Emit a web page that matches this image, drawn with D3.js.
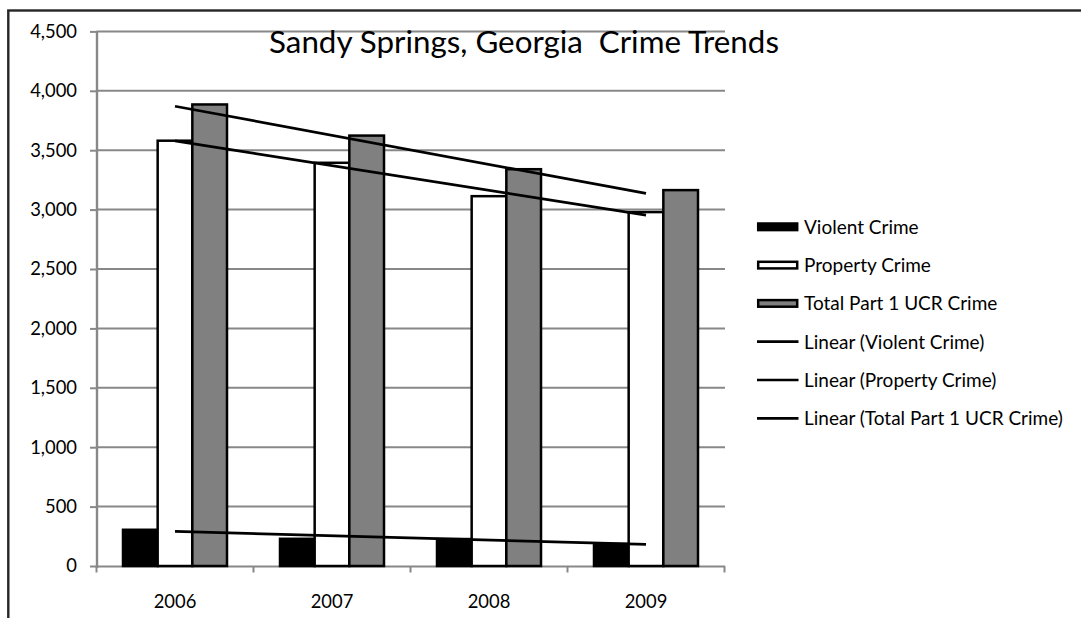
<!DOCTYPE html>
<html>
<head>
<meta charset="utf-8">
<script src="https://cdn.jsdelivr.net/npm/d3@7"></script>
<style>
  html, body { margin: 0; padding: 0; background: #fff; }
  svg { display: block; }
  text { font-family: Lato, "Open Sans", sans-serif; fill: #000; }
</style>
</head>
<body>
<svg id="chart" width="1081" height="618"></svg>
<script>
// ---- data ----
const years = ["2006", "2007", "2008", "2009"];
const violent = [305, 229, 227, 185];
const property = [3580, 3394, 3113, 2979];
const total = [3885, 3623, 3340, 3164];
const seriesNames = ["Violent Crime", "Property Crime", "Total Part 1 UCR Crime"];
const trendNames = ["Linear (Violent Crime)", "Linear (Property Crime)", "Linear (Total Part 1 UCR Crime)"];
const yTicks = [0, 500, 1000, 1500, 2000, 2500, 3000, 3500, 4000, 4500];
const titleText = "Sandy Springs, Georgia  Crime Trends";

// ---- styles ----
const fills = ["#000000", "#ffffff", "#808080"];
const gridColor = "#888888";

const svg = d3.select("#chart");

// outer frame (cropped at right/bottom as in the reference)
svg.append("rect")
  .attr("x", 8.3).attr("y", 10.5)
  .attr("width", 1200).attr("height", 800)
  .attr("fill", "none").attr("stroke", "#262626").attr("stroke-width", 2.4);

const plotLeft = 96.5, plotRight = 724.5, plotBottom = 566, plotTop = 31.4;

const x = d3.scaleBand().domain(years).range([plotLeft, plotRight]).paddingInner(0).paddingOuter(0);
const groupPad = 26.5;
const x1 = d3.scaleBand().domain(seriesNames).range([groupPad, x.bandwidth() - groupPad]).padding(0);
const y = d3.scaleLinear().domain([0, 4500]).range([plotBottom, plotTop]);

// helper to fit font size to a target width
function fitSize(sample, target, base) {
  const t = svg.append("text").attr("font-size", base).text(sample);
  const w = t.node().getComputedTextLength();
  t.remove();
  return base * target / w;
}
const axisFont = fitSize("2006", 42.7, 20);
const legendFont = fitSize("Linear (Total Part 1 UCR Crime)", 259, 20);
const titleFont = fitSize(titleText, 502, 30);

// gridlines
svg.append("g").selectAll("line")
  .data(yTicks.filter(d => d > 0))
  .join("line")
  .attr("x1", plotLeft).attr("x2", plotRight + 0.5)
  .attr("y1", d => y(d)).attr("y2", d => y(d))
  .attr("stroke", gridColor).attr("stroke-width", 2);

// y axis
const yAxis = svg.append("g")
  .attr("transform", `translate(${plotLeft},0)`)
  .call(d3.axisLeft(y).tickValues(yTicks).tickSize(6.5).tickPadding(13).tickFormat(d3.format(",")));
yAxis.select(".domain").attr("stroke", gridColor).attr("stroke-width", 2.4)
  .attr("d", `M0.5,${plotTop - 0.5}V${plotBottom + 2}`);
yAxis.selectAll(".tick line").attr("stroke", gridColor).attr("stroke-width", 2);
yAxis.selectAll(".tick text").attr("font-size", axisFont).attr("font-family", "Lato, sans-serif").attr("fill", "#000");

// x axis
const xAxis = svg.append("g")
  .attr("transform", `translate(0,${plotBottom})`)
  .call(d3.axisBottom(x).tickSize(0).tickPadding(29));
xAxis.select(".domain").attr("stroke", gridColor).attr("stroke-width", 2);
xAxis.selectAll(".tick text").attr("font-size", axisFont).attr("font-family", "Lato, sans-serif").attr("fill", "#000");
const bounds = years.map(d => x(d)).concat([x(years[years.length - 1]) + x.bandwidth()]);
xAxis.append("g").selectAll("line").data(bounds).join("line")
  .attr("x1", d => d).attr("x2", d => d)
  .attr("y1", 0).attr("y2", 6.5)
  .attr("stroke", gridColor).attr("stroke-width", 2);

// bars
const seriesVals = [violent, property, total];
const barData = [];
years.forEach((yr, i) => {
  seriesNames.forEach((s, j) => barData.push({ yr, s, j, v: seriesVals[j][i] }));
});
svg.append("g").selectAll("rect")
  .data(barData)
  .join("rect")
  .attr("x", d => x(d.yr) + x1(d.s))
  .attr("y", d => y(d.v))
  .attr("width", x1.bandwidth())
  .attr("height", d => y(0) - y(d.v))
  .attr("fill", d => fills[d.j])
  .attr("stroke", "#000").attr("stroke-width", 2.5);

// linear trend lines (least squares, as Excel's "Linear" trendline)
function linReg(vals) {
  const n = vals.length;
  const xs = vals.map((_, i) => i + 1);
  const mx = d3.mean(xs), my = d3.mean(vals);
  const b = d3.sum(xs.map((xv, i) => (xv - mx) * (vals[i] - my))) / d3.sum(xs.map(xv => (xv - mx) ** 2));
  const a = my - b * mx;
  return [a + b * 1, a + b * n];
}
const cx = d => x(d) + x.bandwidth() / 2;
seriesVals.forEach(vals => {
  const [y0, y1] = linReg(vals);
  svg.append("line")
    .attr("x1", cx(years[0])).attr("x2", cx(years[years.length - 1]))
    .attr("y1", y(y0)).attr("y2", y(y1))
    .attr("stroke", "#000").attr("stroke-width", 2.7);
});

// title
svg.append("text")
  .attr("x", 524).attr("y", 53)
  .attr("text-anchor", "middle")
  .attr("font-size", titleFont)
  .style("white-space", "pre")
  .text(titleText);

// legend
const legX = 757, legY0 = 226.8, legStep = 38.3;
const leg = svg.append("g");
const legendItems = seriesNames.map((n, j) => ({ name: n, type: "bar", j }))
  .concat(trendNames.map((n, j) => ({ name: n, type: "line", j })));
legendItems.forEach((d, i) => {
  const cy = legY0 + i * legStep;
  if (d.type === "bar") {
    leg.append("rect")
      .attr("x", legX + 1.2).attr("y", cy - 3.3)
      .attr("width", 39).attr("height", 6.6)
      .attr("fill", fills[d.j]).attr("stroke", "#000").attr("stroke-width", 2.5);
  } else {
    leg.append("line")
      .attr("x1", legX).attr("x2", legX + 41.5)
      .attr("y1", cy).attr("y2", cy)
      .attr("stroke", "#000").attr("stroke-width", 2.7);
  }
  leg.append("text")
    .attr("x", 804).attr("y", cy)
    .attr("dy", "0.36em")
    .attr("font-size", legendFont)
    .text(d.name);
});
</script>
</body>
</html>
